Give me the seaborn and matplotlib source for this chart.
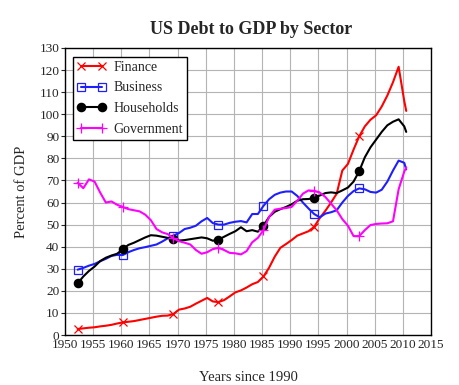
import numpy as np
import pandas as pd
import seaborn as sns
import matplotlib
matplotlib.use("Agg")
import matplotlib.pyplot as plt
from matplotlib.lines import Line2D

years = list(np.arange(1952.25, 2010.5, 1.0)) + [2010.6]

finance = [2.7, 3.0, 3.3, 3.5, 3.9, 4.2, 4.6, 5.2, 5.7, 6.0,
           6.3, 6.8, 7.3, 7.8, 8.3, 8.7, 8.8, 9.5, 11.5, 12.0,
           12.8, 14.2, 15.5, 16.8, 15.2, 14.9, 15.8, 17.5, 19.3, 20.2,
           21.5, 23.0, 24.0, 26.5, 30.5, 35.5, 39.5, 41.2, 43.0, 45.0,
           46.0, 47.0, 49.0, 53.0, 56.3, 60.0, 64.0, 74.5, 77.5, 84.0,
           90.0, 94.5, 97.5, 99.5, 103.5, 108.5, 114.5, 121.5, 106.0,
           101.5]
business = [29.6, 30.4, 31.4, 32.2, 33.4, 34.5, 35.8, 36.3, 36.2, 37.5,
            38.5, 39.3, 39.8, 40.4, 41.0, 42.3, 43.8, 45.0, 46.2, 48.0,
            48.6, 49.5, 51.5, 53.0, 50.7, 50.0, 50.0, 50.8, 51.3, 51.6,
            51.0, 54.8, 54.8, 58.5, 61.5, 63.5, 64.5, 65.0, 65.0, 63.0,
            60.0, 57.3, 54.8, 53.3, 55.0, 55.6, 56.5, 60.0, 63.0, 65.2,
            66.4, 66.0, 64.8, 64.5, 65.8, 69.5, 74.5, 79.0, 78.0,
            75.0]
households = [23.4, 26.5, 29.0, 31.0, 33.5, 35.0, 36.0, 36.8, 38.8, 40.8,
              41.8, 43.0, 44.2, 45.2, 45.0, 44.5, 44.0, 43.3, 42.8, 43.0,
              43.4, 43.8, 44.2, 43.8, 42.7, 43.2, 44.5, 45.8, 47.0, 48.8,
              47.0, 47.5, 46.8, 49.5, 53.5, 55.8, 57.0, 58.0, 59.2, 60.8,
              61.5, 61.6, 62.0, 63.2, 64.3, 64.6, 64.3, 65.5, 66.8, 69.5,
              74.2, 80.5, 85.0, 88.5, 92.0, 95.0, 96.6, 97.7, 94.5,
              92.0]
government = [69.0, 66.5, 70.5, 69.5, 64.5, 60.0, 60.5, 59.0, 58.0, 57.0,
              56.5, 56.0, 54.5, 52.0, 48.0, 46.5, 45.7, 43.8, 42.5, 41.8,
              41.0, 38.5, 36.8, 37.5, 38.9, 39.5, 38.5, 37.2, 37.0, 36.5,
              38.0, 42.0, 44.0, 47.5, 53.5, 56.8, 57.2, 57.5, 58.0, 60.8,
              64.0, 65.5, 65.3, 64.5, 62.5, 59.5, 56.5, 52.5, 49.5, 44.8,
              44.8, 47.5, 49.8, 50.3, 50.5, 50.6, 51.5, 66.0, 74.0,
              75.9]

series_names = ["Finance", "Business", "Households", "Government"]
series_values = [finance, business, households, government]
x_ticks = list(range(1950, 2016, 5))
y_ticks = list(range(0, 131, 10))

colors = {"Finance": "#ff0000", "Business": "#1e1eff",
          "Households": "#000000", "Government": "#ff00ff"}
marker_style = {
    "Finance": dict(marker="x", markersize=6, mfc="#ff0000", mec="#ff0000", mew=0.9),
    "Business": dict(marker="s", markersize=6, mfc="none", mec="#1e1eff", mew=0.9),
    "Households": dict(marker="o", markersize=6, mfc="#000000", mec="#000000", mew=0.9),
    "Government": dict(marker="+", markersize=7.5, mfc="#ff00ff", mec="#ff00ff", mew=0.9),
}
mark_idx = [0, 8, 17, 25, 33, 42, 50]

sns.set_style("white")
plt.rcParams['font.family'] = ['Liberation Serif', 'DejaVu Serif']

fig = plt.figure(figsize=(4.59, 3.85), dpi=100)
ax = fig.add_axes([65/459, 50/385, 366/459, 287/385])

for name, vals in zip(series_names, series_values):
    df = pd.DataFrame({"year": years, "value": vals})
    sns.lineplot(data=df, x="year", y="value", ax=ax, color=colors[name],
                 linewidth=1.5, markevery=mark_idx, **marker_style[name])

ax.set_xlim(1950, 2015)
ax.set_ylim(0, 130)
ax.set_xticks(x_ticks)
ax.set_yticks(y_ticks)
ax.set_xticklabels([str(t) for t in x_ticks], fontsize=9.5)
ax.set_yticklabels([str(t) for t in y_ticks], fontsize=9.5)
ax.grid(True, color="#b4b4b4", linewidth=0.8)
ax.set_axisbelow(True)
for s in ax.spines.values():
    s.set_visible(True)
    s.set_color("black")
    s.set_linewidth(1.0)
ax.tick_params(axis="y", direction="out", length=3, width=0.8, pad=1, left=True)
ax.tick_params(axis="x", length=0, pad=3)

ax.set_xlabel("Years since 1990", fontsize=10.5, labelpad=14)
ax.set_ylabel("Percent of GDP", fontsize=10.5, labelpad=8)
fig.suptitle("US Debt to GDP by Sector", x=251/459, y=1 - 30/385, va="center",
             fontsize=13, fontweight="bold")

handles = [Line2D([0], [0], color=colors[n], linewidth=1.5, **marker_style[n])
           for n in series_names]
leg = ax.legend(handles, series_names, loc="upper left", numpoints=2,
                bbox_to_anchor=(0.022, 0.97), fontsize=10, frameon=True,
                fancybox=False, framealpha=1, edgecolor="black",
                handlelength=2.1, borderpad=0.3, labelspacing=0.55,
                handletextpad=0.5, borderaxespad=0.0)
leg.get_frame().set_linewidth(1.0)

fig.savefig("out.png", dpi=100)
